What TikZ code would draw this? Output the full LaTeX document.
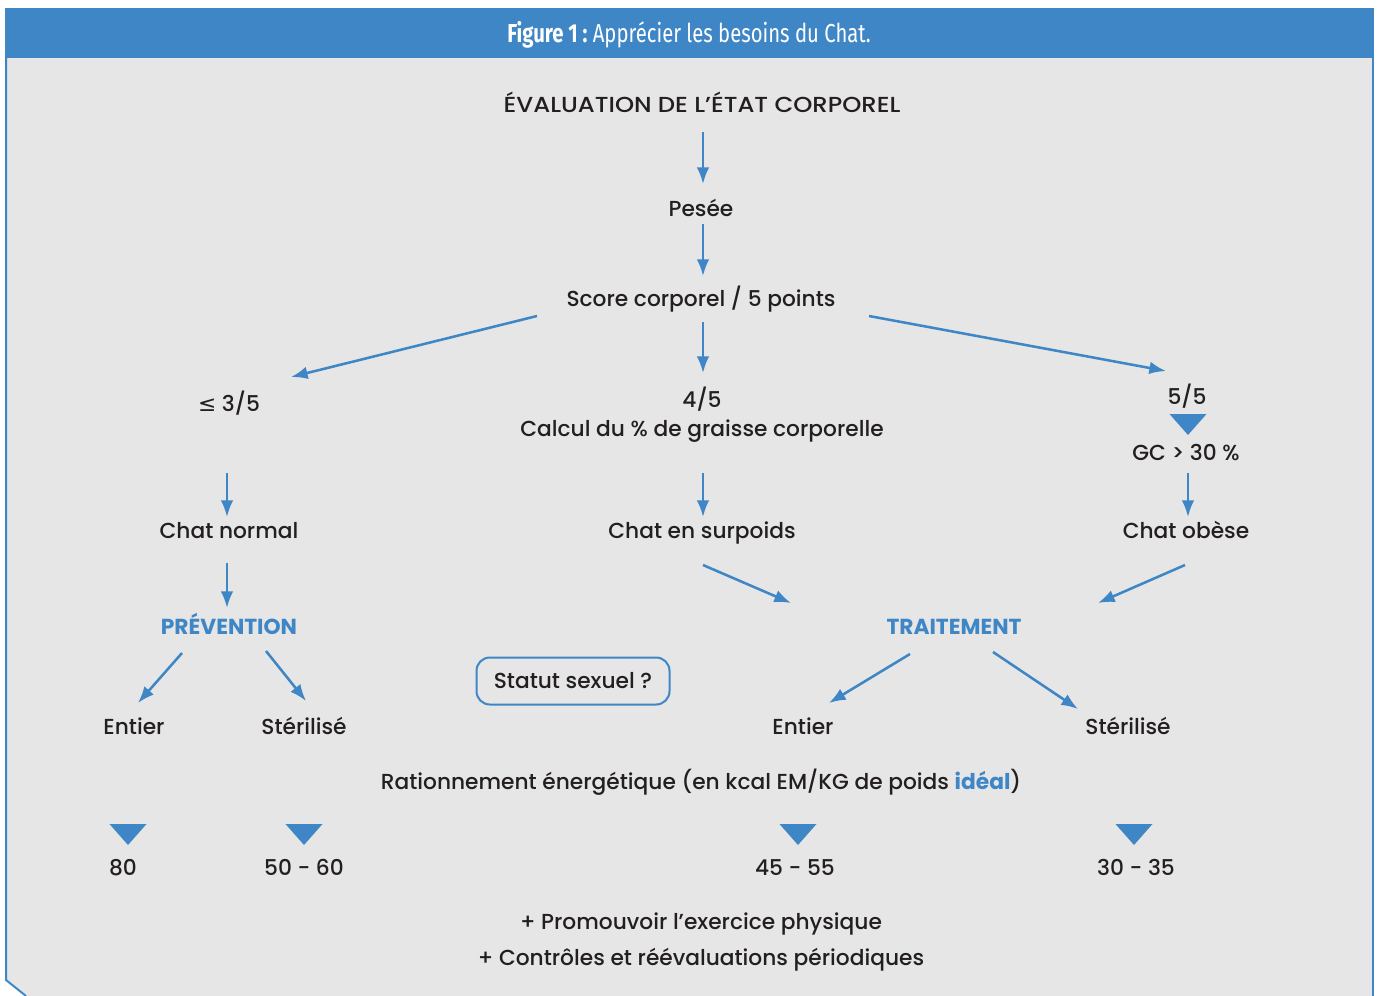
\documentclass[tikz,border=0pt]{standalone}
\usepackage{fontspec}
\IfFontExistsTF{Poppins Medium}{%
  \setmainfont{Poppins Medium}[BoldFont={Poppins Bold}]}{%
  \setmainfont{Poppins}}
\newfontfamily\hfont{Fira Sans}
\newfontfamily\symfont{DejaVu Sans}
\usetikzlibrary{arrows.meta}
\definecolor{cblue}{RGB}{62,134,198}
\definecolor{cgray}{RGB}{230,230,230}
\definecolor{ctext}{RGB}{35,31,32}
\begin{document}
\begin{tikzpicture}[x=0.75pt,y=-0.75pt,
 lbl/.style={font=\fontsize{16.3}{19}\selectfont, text=ctext, inner sep=0pt, anchor=base},
 key/.style={lbl, font=\fontsize{16.3}{19}\selectfont\bfseries, text=cblue},
 arr/.style={draw=cblue, line width=1.9pt, -{Latex[length=12.5pt,width=9.5pt]}},
 tri/.style={fill=cblue}]
\useasboundingbox (0,0) rectangle (1379,996);
% frame
\fill[white] (0,0) rectangle (1379,996);
\fill[cgray] (6,58) -- (1373,58) -- (1373,996) -- (26,996) -- (6,980) -- cycle;
\fill[cblue] (5,8) rectangle (1374,58);
\draw[cblue, line width=1.5pt] (6,58) -- (6,980) -- (26,996);
\draw[cblue, line width=1.5pt] (1373,58) -- (1373,996);
\node[text=white, inner sep=0pt] (title) at (689,35) {\scalebox{0.78}[1]{\hfont\fontsize{19.5}{22}\selectfont\bfseries Figure 1 :\mdseries\ Apprécier les besoins du Chat.}};
% texts
\node[lbl] (eval) at (702,112) {\scalebox{1.12}[1]{ÉVALUATION DE L’ÉTAT CORPOREL}};
\node[lbl] (pesee) at (701,216) {Pesée};
\node[lbl] (score) at (701,306) {Score corporel / 5 points};
\node[lbl] (le35) at (229,411) {{\symfont ≤} 3/5};
\node[lbl] (q45) at (702,407) {4/5};
\node[lbl] (calcul) at (702,436) {Calcul du \% de graisse corporelle};
\node[lbl] (q55) at (1187,404) {5/5};
\node[lbl] (gc) at (1186,460) {GC > 30 \%};
\node[lbl] (normal) at (229,538) {Chat normal};
\node[lbl] (surpoids) at (702,538) {Chat en surpoids};
\node[lbl] (obese) at (1186,538) {Chat obèse};
\node[key] (prev) at (229,634) {PRÉVENTION};
\node[key] (trait) at (954,634) {TRAITEMENT};
\node[draw=cblue, line width=1.5pt, rounded corners=10pt, minimum width=193*0.75pt, minimum height=47*0.75pt, font=\fontsize{16.3}{19}\selectfont, text=ctext] (statut) at (573,681) {Statut sexuel ?};
\node[lbl] (entL) at (134,734) {Entier};
\node[lbl] (sterL) at (304,734) {Stérilisé};
\node[lbl] (entR) at (803,734) {Entier};
\node[lbl] (sterR) at (1128,734) {Stérilisé};
\node[lbl] (ration) at (701,789) {Rationnement énergétique (en kcal EM/KG de poids \textcolor{cblue}{\bfseries idéal})};
\node[lbl] (v80) at (123,875) {80};
\node[lbl] (v5060) at (304,875) {50 - 60};
\node[lbl] (v4555) at (795,875) {45 - 55};
\node[lbl] (v3035) at (1136,875) {30 - 35};
\node[lbl] (promo) at (701,929) {+ Promouvoir l’exercice physique};
\node[lbl] (ctrl) at (701,965) {+ Contrôles et réévaluations périodiques};
% arrow end points
\coordinate (a1s) at (703,132); \coordinate (a1e) at (703,184);
\coordinate (a2s) at (703,224); \coordinate (a2e) at (703,276);
\coordinate (a3s) at (537,316); \coordinate (a3e) at (291,377);
\coordinate (a4s) at (703,322); \coordinate (a4e) at (703,373);
\coordinate (a5s) at (869,316); \coordinate (a5e) at (1166,371);
\coordinate (a6s) at (227,473); \coordinate (a6e) at (227,517);
\coordinate (a7s) at (703,473); \coordinate (a7e) at (703,517);
\coordinate (a8s) at (1188,473); \coordinate (a8e) at (1188,517);
\coordinate (a9s) at (227,563); \coordinate (a9e) at (227,608);
\coordinate (a10s) at (703,565); \coordinate (a10e) at (791,603);
\coordinate (a11s) at (1185,565); \coordinate (a11e) at (1098,603);
\coordinate (a12s) at (182,653); \coordinate (a12e) at (138,703);
\coordinate (a13s) at (266,651); \coordinate (a13e) at (306,701);
\coordinate (a14s) at (910,654); \coordinate (a14e) at (829,703);
\coordinate (a15s) at (993,652); \coordinate (a15e) at (1078,709);
\foreach \i in {1,...,15} {\draw[arr] (a\i s) -- (a\i e);}
% triangles
\foreach \x/\y in {1188/414, 128/824, 304/824, 798/824, 1134/824} {
  \fill[tri] (\x-18.5,\y) -- (\x+18.5,\y) -- (\x,\y+21) -- cycle;}
\end{tikzpicture}
\end{document}
